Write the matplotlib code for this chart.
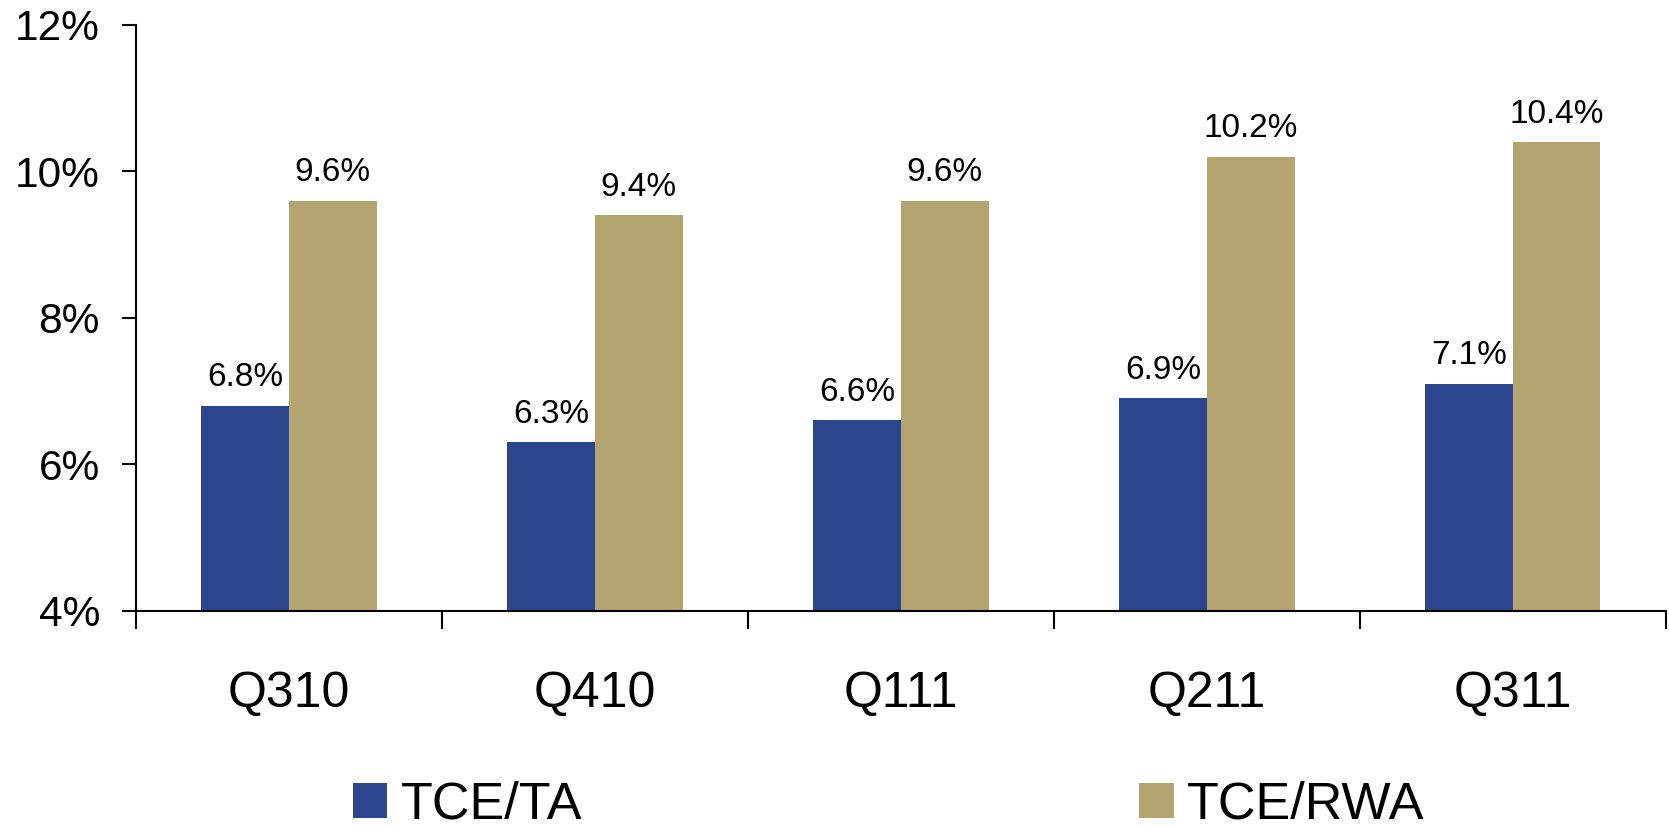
import numpy as np
import matplotlib.pyplot as plt
from matplotlib.patches import Patch

plt.rcParams['font.family'] = ['Liberation Sans', 'DejaVu Sans']

quarters = ['Q310', 'Q410', 'Q111', 'Q211', 'Q311']
tce_ta = [6.8, 6.3, 6.6, 6.9, 7.1]
tce_rwa = [9.6, 9.4, 9.6, 10.2, 10.4]
y_ticks = [4, 6, 8, 10, 12]

blue = '#2B468F'
tan = '#B4A46F'

fig = plt.figure(figsize=(16.69, 8.26), dpi=100)
ax = fig.add_axes([0.0815, 0.2603, 0.9165, 0.7097])

x = np.arange(len(quarters))
w = 0.287
b1 = ax.bar(x - w / 2, np.array(tce_ta) - 4, w, bottom=4, color=blue)
b2 = ax.bar(x + w / 2, np.array(tce_rwa) - 4, w, bottom=4, color=tan)

for xs, vals in ((x - w / 2, tce_ta), (x + w / 2, tce_rwa)):
    for xi, v in zip(xs, vals):
        ax.annotate(f'{v:.1f}%', (xi, v), xytext=(0, 9), textcoords='offset points',
                    ha='center', va='bottom', fontsize=24)

ax.set_xlim(-0.5, len(quarters) - 0.5)
ax.set_ylim(4, 12)
ax.set_yticks(y_ticks)
ax.set_yticklabels([f'{t}%' for t in y_ticks], fontsize=30.5)
ax.tick_params(axis='y', direction='out', length=10, width=1.5, pad=16)

ax.set_xticks(x)
ax.set_xticklabels(quarters, fontsize=36)
ax.tick_params(axis='x', which='major', length=0, pad=43)
ax.set_xticks(np.arange(len(quarters) + 1) - 0.5, minor=True)
ax.tick_params(axis='x', which='minor', direction='out', length=13, width=1.5)

for s in ['top', 'right']:
    ax.spines[s].set_visible(False)
for s in ['left', 'bottom']:
    ax.spines[s].set_linewidth(1.5)

handles = [Patch(facecolor=blue, label='TCE/TA'), Patch(facecolor=tan, label='TCE/RWA')]
fig.legend(handles=handles, loc='center left', bbox_to_anchor=(0.2115, 0.0254), ncol=2,
           frameon=False, fontsize=37.5, handlelength=0.66, handleheight=0.66,
           handletextpad=0.25, columnspacing=10.7, borderpad=0, borderaxespad=0)

fig.savefig('out.png', dpi=100)
